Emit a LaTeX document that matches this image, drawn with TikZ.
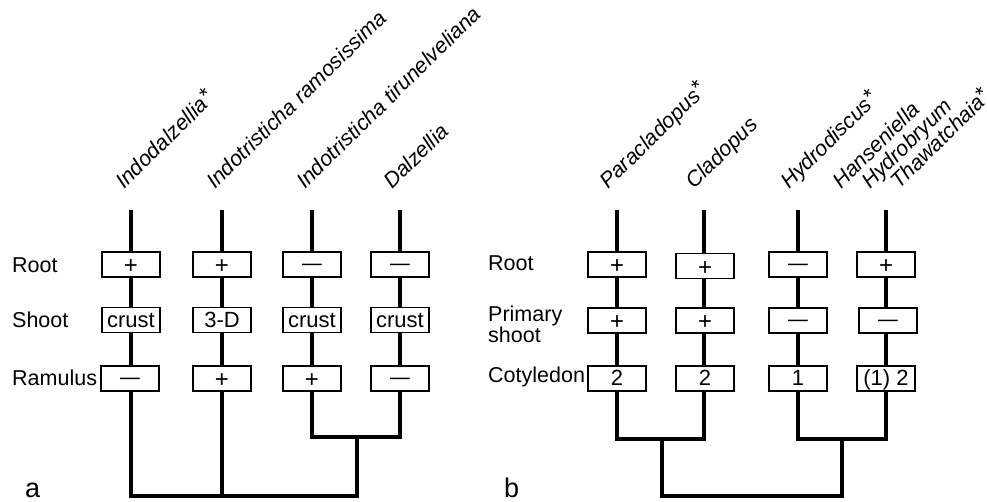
\documentclass[tikz,border=0pt]{standalone}
\usepackage{fontspec}
\setmainfont{Liberation Sans}
\newcommand\mns{\raisebox{1.5pt}{\scalebox{0.9}[1]{—}}}
\newcommand\pls{\raisebox{-2.2pt}{\fontsize{24}{24}\selectfont +}}
\newcommand\starmark{\raisebox{3pt}{*}}
\begin{document}
\begin{tikzpicture}[x=1pt,y=-1pt,
  tree/.style={line width=4pt,line join=miter},
  cbox/.style={draw,line width=1.5pt,fill=white,minimum width=58pt,minimum height=25pt,
    inner sep=0pt,text height=14pt,text depth=0pt,font=\fontsize{22}{22}\selectfont},
  rowlab/.style={anchor=base west,inner sep=0pt,font=\fontsize{21.5}{22}\selectfont},
  twolab/.style={anchor=north west,inner sep=0pt,align=left,font=\fontsize{21.5}{16.5}\selectfont},
  taxon/.style={rotate=44.5,anchor=base west,inner sep=0pt,font=\fontsize{21.5}{22}\selectfont\itshape},
  panel/.style={anchor=base west,inner sep=0pt,font=\fontsize{27}{30}\selectfont}]
\useasboundingbox (0,0) rectangle (987,501);
% ---------------- panel a ----------------
\coordinate (a1t) at (131,210);
\coordinate (a2t) at (222,210);
\coordinate (a3t) at (312,210);
\coordinate (a4t) at (400,210);
\coordinate (a34) at (357,437);
\coordinate (abase) at (222,496);
\draw[tree] (a3t) |- (a34) -| (a4t);
\draw[tree] (a1t) |- (abase) -| (a34);
\draw[tree] (a2t) -- (abase);
% boxes
\node[cbox] (a1r) at (131,264.5) {\pls};
\node[cbox] (a2r) at (222,264.5) {\pls};
\node[cbox] (a3r) at (312,264.5) {\mns};
\node[cbox] (a4r) at (400,264.5) {\mns};
\node[cbox] (a1s) at (131,320) {crust};
\node[cbox] (a2s) at (222,320) {3-D};
\node[cbox] (a3s) at (312,320) {crust};
\node[cbox] (a4s) at (400,320) {crust};
\node[cbox] (a1m) at (130,378.5) {\mns};
\node[cbox] (a2m) at (222,378.5) {\pls};
\node[cbox] (a3m) at (312,378.5) {\pls};
\node[cbox] (a4m) at (400,378.5) {\mns};
% row labels
\node[rowlab] (aRoot) at (12,272.5) {Root};
\node[rowlab] (aShoot) at (12,327) {Shoot};
\node[rowlab] (aRam) at (12,385.5) {Ramulus};
% taxa
\node[taxon] (ta1) at (124,190) {Indodalzellia\starmark};
\node[taxon] (ta2) at (215,190) {Indotristicha ramosissima};
\node[taxon] (ta3) at (305,190) {Indotristicha tirunelveliana};
\node[taxon] (ta4) at (392,190) {Dalzellia};
\node[panel] (pa) at (25,497) {a};
% ---------------- panel b ----------------
\coordinate (b1t) at (617,210);
\coordinate (b2t) at (704,210);
\coordinate (b3t) at (798,210);
\coordinate (b4t) at (886,210);
\coordinate (b12) at (662,439);
\coordinate (b34) at (842,439);
\coordinate (bbase) at (752,496);
\draw[tree] (b1t) |- (b12) -| (b2t);
\draw[tree] (b3t) |- (b34) -| (b4t);
\draw[tree] (b12) |- (bbase) -| (b34);
\node[cbox] (b1r) at (617,264.5) {\pls};
\node[cbox] (b2r) at (705,266) {\pls};
\node[cbox] (b3r) at (798,264.5) {\mns};
\node[cbox] (b4r) at (886,264.5) {\pls};
\node[cbox] (b1s) at (617,320.5) {\pls};
\node[cbox] (b2s) at (705,320.5) {\pls};
\node[cbox] (b3s) at (798,320.5) {\mns};
\node[cbox] (b4s) at (888,320.5) {\mns};
\node[cbox] (b1c) at (617,378.5) {2};
\node[cbox] (b2c) at (705,378.5) {2};
\node[cbox] (b3c) at (798,378.5) {1};
\node[cbox] (b4c) at (886,378.5) {(1) 2};
\node[rowlab] (bRoot) at (488,270.7) {Root};
\node[twolab] (bPrim) at (488,305.5) {Primary\\shoot};
\node[rowlab] (bCot) at (488,382.7) {Cotyledon};
\node[taxon] (tb1) at (608,190) {Paracladopus\starmark};
\node[taxon] (tb2) at (694,190) {Cladopus};
\node[taxon] (tb3) at (789,190) {Hydrodiscus\starmark};
\node[taxon] (tb4) at (841,190) {Hanseniella};
\node[taxon] (tb5) at (870,190) {Hydrobryum};
\node[taxon] (tb6) at (899,190) {Thawatchaia\starmark};
\node[panel] (pb) at (504,497) {b};
\end{tikzpicture}
\end{document}
